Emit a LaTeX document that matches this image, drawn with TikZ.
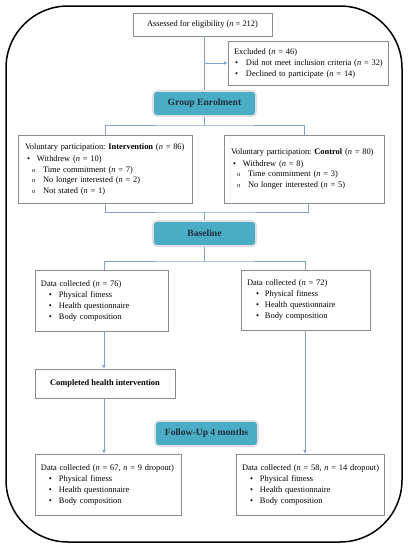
\documentclass[tikz,border=0pt]{standalone}
\usepackage{fontspec}
\setmainfont{Liberation Serif}
\usetikzlibrary{arrows.meta}
\definecolor{teal1}{HTML}{4BACC6}
\definecolor{linkblue}{HTML}{7EA2CF}
\definecolor{boxgray}{HTML}{8C8C8C}
\definecolor{tealtext}{HTML}{1E2E3C}
\newcommand{\lineof}[1]{\mbox{#1}}
\newcommand{\bu}[3]{\mbox{\hspace*{#1}\makebox[#2][l]{\textbullet}#3}}
\newcommand{\ci}[3]{\mbox{\hspace*{#1}\makebox[#2][l]{\fontsize{6.5}{6}\selectfont o}#3}}
\frenchspacing
\begin{document}
\begin{tikzpicture}[x=1pt,y=-1pt,
  txt/.style={font=\fontsize{8.4}{10.5}\selectfont},
  wide/.style={font=\fontsize{8.4}{11}\selectfont},
  plainbox/.style={txt,draw=boxgray,line width=0.8pt,fill=white,inner ysep=2pt},
  listbox/.style={plainbox,align=left},
  stagebox/.style={draw=black!12,line width=1.6pt,fill=teal1,rounded corners=4pt,
    minimum width=103pt,minimum height=25pt,inner sep=0pt,
    font=\fontsize{9.6}{12}\selectfont\bfseries,text=tealtext},
  link/.style={draw=linkblue,line width=0.8pt},
  arr/.style={link,-{Latex[length=3.5pt,width=3.5pt]}},
  frame/.style={draw=black,line width=1.5pt,rounded corners=62pt}
]
\useasboundingbox (0,0) rectangle (409,550);
\draw[frame] (6,6) rectangle (402,542);

% nodes
\node[plainbox,minimum width=139pt,minimum height=23pt,inner sep=0pt] (assess) at (202.5,24.5)
  {Assessed for eligibility (\textit{n} = 212)};
\node[listbox,wide,minimum height=44pt,text width=148pt,inner xsep=6pt] (excl) at (308,63)
  {\lineof{Excluded (\textit{n} = 46)}\\
   \bu{1pt}{11pt}{Did not meet inclusion criteria (\textit{n} = 32)}\\
   \bu{1pt}{11pt}{Declined to participate (\textit{n} = 14)}};
\node[stagebox] (group) at (204.5,103.5) {Group Enrolment};
\node[listbox,minimum height=68pt,text width=160pt,inner xsep=7pt] (inter) at (105,169)
  {\lineof{Voluntary participation: \textbf{Intervention} (\textit{n} = 86)}\\[2pt]
   \bu{2pt}{10pt}{Withdrew (\textit{n} = 10)}\\
   \ci{7pt}{11pt}{Time commitment (\textit{n} = 7)}\\
   \ci{7pt}{11pt}{No longer interested (\textit{n} = 2)}\\
   \ci{7pt}{11pt}{Not stated (\textit{n} = 1)}};
\node[listbox,minimum height=68pt,text width=146pt,inner xsep=7pt] (ctrl) at (304,169)
  {\lineof{Voluntary participation: \textbf{Control} (\textit{n} = 80)}\\[1pt]
   \bu{2pt}{10pt}{Withdrew (\textit{n} = 8)}\\
   \ci{6pt}{11pt}{Time commitment (\textit{n} = 3)}\\
   \ci{6pt}{11pt}{No longer interested (\textit{n} = 5)}};
\node[stagebox] (base) at (204.5,233.5) {Baseline};
\node[listbox,wide,minimum height=61pt,text width=121pt,inner xsep=6pt] (dl) at (101.5,300.5)
  {\lineof{Data collected (\textit{n} = 76)}\\
   \bu{8pt}{10pt}{Physical fitness}\\
   \bu{8pt}{10pt}{Health questionnaire}\\
   \bu{8pt}{10pt}{Body composition}};
\node[listbox,wide,minimum height=60pt,text width=117pt,inner xsep=6pt] (dr) at (305.5,300)
  {\lineof{Data collected (\textit{n} = 72)}\\
   \bu{9pt}{9pt}{Physical fitness}\\
   \bu{9pt}{9pt}{Health questionnaire}\\
   \bu{9pt}{9pt}{Body composition}};
\node[plainbox,minimum width=140pt,minimum height=29pt,inner sep=0pt,font=\fontsize{8.4}{10.5}\selectfont\bfseries] (comp) at (105,383.5)
  {Completed health intervention};
\node[stagebox] (follow) at (206.5,433.5) {Follow-Up 4 months};
\node[listbox,wide,minimum height=61pt,text width=134pt,inner xsep=6pt] (dl2) at (108,484.5)
  {\lineof{Data collected (\textit{n} = 67, \textit{n} = 9 dropout)}\\
   \bu{8pt}{10pt}{Physical fitness}\\
   \bu{8pt}{10pt}{Health questionnaire}\\
   \bu{8pt}{10pt}{Body composition}};
\node[listbox,wide,minimum height=61pt,text width=136pt,inner xsep=6pt] (dr2) at (310,484.5)
  {\lineof{Data collected (\textit{n} = 58, \textit{n} = 14 dropout)}\\
   \bu{8pt}{10pt}{Physical fitness}\\
   \bu{8pt}{10pt}{Health questionnaire}\\
   \bu{8pt}{10pt}{Body composition}};

% helper coordinates
\coordinate (colM) at (204,0);
\coordinate (colL) at (104,0);
\coordinate (colR) at (305,0);
\coordinate (j1) at (204.5,125);
\coordinate (j2) at (204.5,212);
\coordinate (j3) at (204.5,261);

% connectors
\draw[link] (assess.south -| colM) -- (group.north -| colM);
\draw[arr] (excl.west -| colM) -- (excl.west);
\draw[link] (group.south) -- (j1);
\draw[link] (inter.north) |- (j1) -| (ctrl.north);
\draw[link] (inter.south) |- (j2) -| ([xshift=4pt]ctrl.south);
\draw[link] (j2) -- (base.north);
\draw[link] (base.south) -- (j3);
\draw[link] (dl.north -| colL) |- (j3) -| (dr.north -| colR);
\draw[arr] (dl.south -| colL) -- (comp.north -| colL);
\draw[arr] (comp.south -| colL) -- (dl2.north -| colL);
\draw[arr] (dr.south -| colR) -- (dr2.north -| colR);
\end{tikzpicture}
\end{document}
